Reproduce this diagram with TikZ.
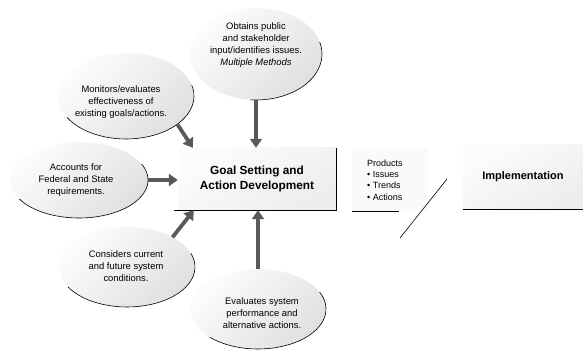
\documentclass[tikz,border=0pt]{standalone}
\usepackage{fontspec}
\setmainfont{Liberation Sans}
\usetikzlibrary{shapes.geometric,arrows.meta,calc}
\begin{document}
\begin{tikzpicture}[x=1pt,y=1pt,
  bubble/.style={ellipse,inner sep=0pt,shade,top color=gray!2,bottom color=gray!24,shading angle=45},
  btext/.style={align=center,font=\fontsize{9.4}{12}\selectfont,inner sep=0pt},
  feed/.style={draw=black!65,line width=3.8pt,-{Triangle[width=12pt,length=9pt]}},
  rim/.style={draw=black,line width=0.6pt},
  panel/.style={inner sep=0pt,shade,top color=gray!2,bottom color=gray!14,shading angle=30},
]
\useasboundingbox (0,0) rectangle (583,352);

% ellipses
\node[bubble,minimum width=132pt,minimum height=92pt] (obt) at (256,298) {};
\node[bubble,minimum width=136pt,minimum height=86pt] (mon) at (126,256) {};
\node[bubble,minimum width=138pt,minimum height=76pt] (acc) at (79,172) {};
\node[bubble,minimum width=136pt,minimum height=80pt] (con) at (127,85) {};
\node[bubble,minimum width=136pt,minimum height=80pt] (eva) at (258,43) {};

\draw[rim] ($(obt.center)+(15:66 and 46)$) arc[start angle=15,end angle=-95,x radius=66,y radius=46];
\draw[rim] ($(mon.center)+(15:68 and 43)$) arc[start angle=15,end angle=-150,x radius=68,y radius=43];
\draw[rim] ($(acc.center)+(25:69 and 38)$) arc[start angle=25,end angle=-150,x radius=69,y radius=38];
\draw[rim] ($(con.center)+(20:68 and 40)$) arc[start angle=20,end angle=-150,x radius=68,y radius=40];
\draw[rim] ($(eva.center)+(25:68 and 40)$) arc[start angle=25,end angle=-135,x radius=68,y radius=40];

\node[btext] (obtt) at (256,307) {Obtains public\\and stakeholder\\input/identifies issues.\\\textit{Multiple Methods}};
\node[btext] (mont) at (121,250) {Monitors/evaluates\\effectiveness of\\existing goals/actions.};
\node[btext] (acct) at (76,172) {Accounts for\\Federal and State\\requirements.};
\node[btext] (cont) at (126,86) {Considers current\\and future system\\conditions.};
\node[btext] (evat) at (262,39) {Evaluates system\\performance and\\alternative actions.};

% central box
\node[panel,minimum width=158pt,minimum height=62pt,align=center,
      font=\bfseries\fontsize{11.8}{15}\selectfont] (goal) at (257,173) {Goal Setting and\\Action Development};
\draw[rim] (goal.north east) -- (goal.south east) -- ($(goal.south west)+(-4,0)$);

% implementation box
\node[panel,minimum width=120pt,minimum height=64pt,
      font=\bfseries\fontsize{11}{13}\selectfont] (impl) at (523,175) {Implementation};
\draw[rim] (impl.south west) -- (impl.south east);

% products
\fill[gray!4] (352,141) rectangle (428,204);
\node[anchor=west,align=left,inner sep=0pt,font=\fontsize{9}{11.2}\selectfont] (prod) at (367,172)
  {Products\\\textbullet\ Issues\\\textbullet\ Trends\\\textbullet\ Actions};
\coordinate (pl1) at (352,141);
\coordinate (pl2) at (399,141);
\draw[black,line width=0.7pt] (pl1) -- (pl2);
\coordinate (sl1) at (400,114);
\coordinate (sl2) at (447,173);
\draw[black,line width=0.6pt] (sl1) -- (sl2);

% arrows
\draw[feed] (obt.south) -- (obt.south |- goal.north);
\draw[feed] ($(mon.center)+(41:68 and -43)$) -- ($(goal.north west)+(15,0)$);
\draw[feed] (acc.east) -- (goal.west |- acc.east);
\draw[feed] ($(con.center)+(48:68 and 40)$) -- ($(goal.south west)+(16,0)$);
\draw[feed] (eva.north) -- (eva.north |- goal.south);
\end{tikzpicture}
\end{document}
